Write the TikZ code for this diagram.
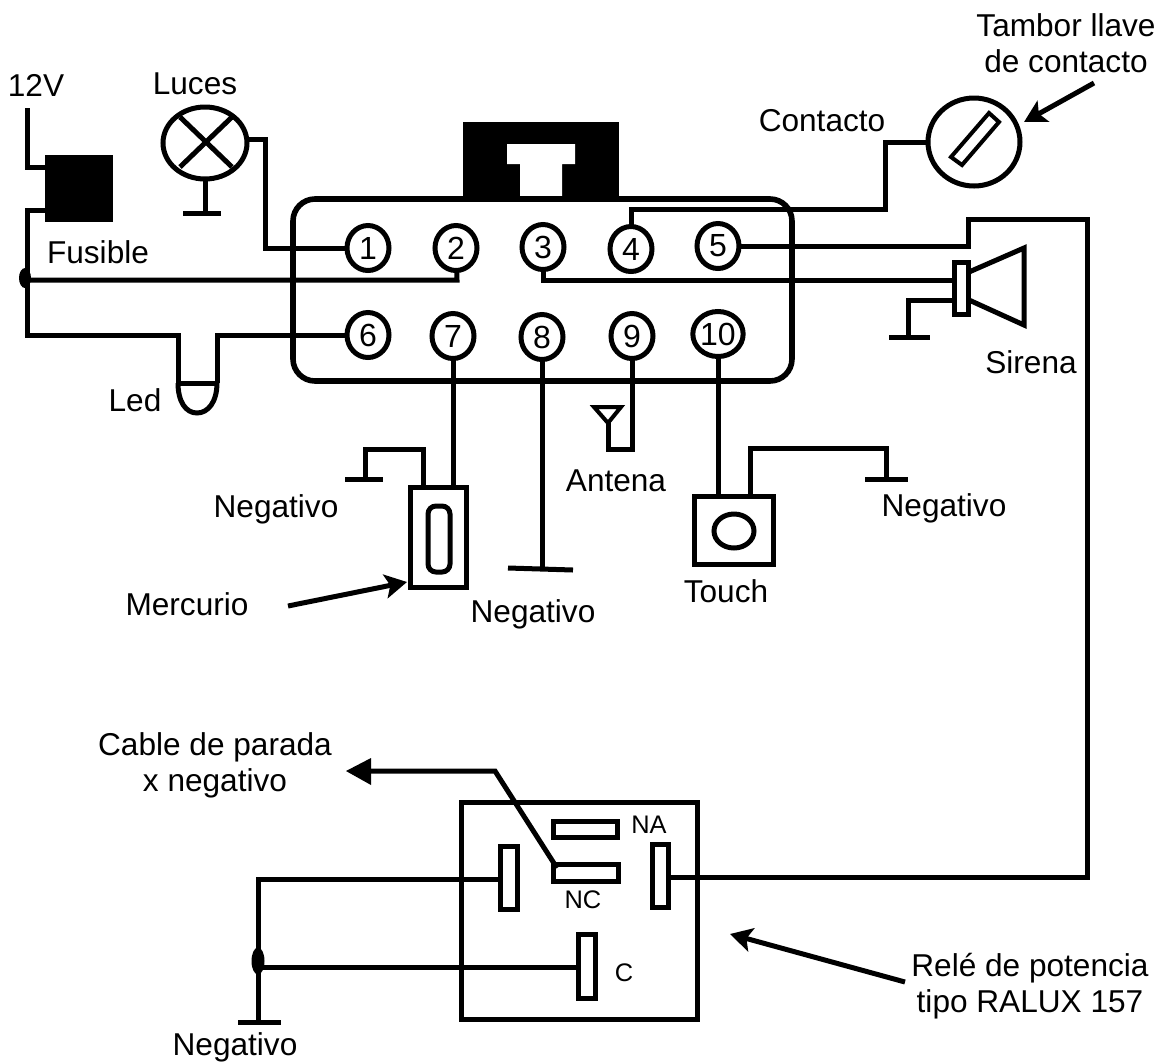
\documentclass[tikz,border=0pt]{standalone}
\usepackage{fontspec}
\setmainfont{Liberation Sans}
\usetikzlibrary{arrows.meta, shapes.geometric}

\tikzset{
    wire/.style={line width=2.5pt, line cap=butt, line join=miter},
    pin/.style={draw, ellipse, line width=2.5pt, fill=white, inner sep=0pt, outer sep=0pt,
        minimum width=21pt, minimum height=22.5pt, font=\fontsize{16}{17}\selectfont},
    label/.style={inner sep=0pt, align=center, font=\fontsize{15.8}{18}\selectfont},
    small/.style={inner sep=0pt, font=\fontsize{12.7}{14}\selectfont},
    box/.style={draw, line width=2.5pt, fill=white, inner sep=0pt, outer sep=0pt},
    lug/.style={draw, line width=2.5pt, fill=white, inner sep=0pt, outer sep=0pt},
    arrow/.style={line width=2.5pt, -{Stealth[length=11pt, width=12pt, inset=2.5pt]}},
    dot/.style={draw=none, fill=black, ellipse, inner sep=0pt}
}

\begin{document}
\begin{tikzpicture}[x=0.5pt, y=-0.5pt]
    \useasboundingbox (0,0) rectangle (1164,1062);

    % Alarm body
    \fill (463,122) rectangle (619,200);
    \fill[white] (507,144) -- (575,144) -- (575,164) -- (562,164) -- (562,197) -- (520,197) -- (520,164) -- (507,164) -- cycle;

    % Pins
    \foreach \n/\x/\y in {1/368/248, 2/456/248, 3/543/247, 4/631/249, 5/718/246,
                          6/368/335, 7/453/336, 8/542/337, 9/632/336, 10/718/334} {
        \coordinate (c\n) at (\x,\y);
    }

    % Wires at the body
    \coordinate (vcc) at (27,108);
    \coordinate (jfuse) at (27,210);
    \coordinate (jbat) at (27,280);
    \coordinate (ledl) at (178,335);
    \coordinate (ledr) at (217,335);
    \coordinate (ledbl) at (178,383);
    \coordinate (ledbr) at (217,383);

    \node[draw=none, fill=black, minimum width=34pt, minimum height=33.5pt, inner sep=0pt] (fuse) at (79,188.5) {};
    \draw[wire] (vcc) |- (45,167);
    \draw[wire] (45,210) -- (jfuse) |- (ledl) -- (ledbl);
    \draw[wire] (jbat) -- (457,280) -- (c2);
    \draw[wire] (ledbr) -- (ledr) -- (c6);
    \draw[wire] (ledbl) -- (ledbr);
    \draw[wire] (ledbl) .. controls (178,402) and (186,413) .. (197,413) .. controls (208,413) and (217,402) .. (ledbr);
    \node[dot, minimum width=6pt, minimum height=10pt] (dotbat) at (25,278) {};

    \draw[line width=2.8pt, rounded corners=11pt] (293,199) rectangle (792,381);

    % Lamp
    \node[draw, ellipse, line width=2.5pt, inner sep=0pt, outer sep=0pt, minimum width=42pt, minimum height=36pt] (lamp) at (205,143) {};
    \draw[wire] (180,117) -- (232,167);
    \draw[wire] (232,117) -- (180,167);
    \coordinate (lampgnd) at (205,213);
    \draw[wire] (lamp.south) -- (lampgnd);
    \draw[wire] (183,213) -- (221,213);
    \draw[wire] (lamp.east |- 0,139) -- (265,139) |- (c1);

    % Key
    \node[draw, ellipse, line width=2.5pt, inner sep=0pt, outer sep=0pt, minimum width=46pt, minimum height=44pt] (key) at (974,142) {};
    \draw[line width=2pt] (989,113) -- (999,122) -- (962,165) -- (951,157) -- cycle;
    \draw[wire] (c4) -- (631,209) -- (885,209) -- (885,142) -- (key.west);
    \draw[arrow] (1094,83) -- (1024,122);

    % Siren
    \draw[wire] (969,272) -- (1024,248) -- (1024,325) -- (969,300);
    \draw[wire] (c3) -- (543,280) -- (957,280);
    \node[lug, minimum width=7pt, minimum height=26pt] (horn) at (961.5,288) {};
    \draw[wire] (horn.west |- 0,300) -- (908,300) -- (908,337);
    \draw[wire] (889,337) -- (930,337);
    \draw[wire] (c5) -- (968,246) -- (968,219) -- (1087,219) |- (668,877);

    % Mercury switch
    \node[box, minimum width=28pt, minimum height=50pt] (merc) at (438.5,537) {};
    \draw[wire, rounded corners=4pt] (428,506) rectangle (450,572);
    \draw[wire] (c7) -- (453,487);
    \draw[wire] (423,487) -- (423,449) -- (365,449) -- (365,479);
    \draw[wire] (345,479) -- (383,479);
    \draw[arrow] (288,606) -- (407,582);

    % Negative
    \draw[wire] (c8) -- (542,569);
    \draw[wire] (508,568) -- (573,570);

    % Antenna
    \draw[wire] (c9) -- (632,449) -- (608,449) -- (608,423);
    \draw[line width=2pt] (594,407) -- (621,407) -- (608,423) -- cycle;

    % Touch
    \node[box, minimum width=39.5pt, minimum height=34pt] (touch) at (733.5,530) {};
    \node[draw, ellipse, line width=2.5pt, inner sep=0pt, minimum width=20pt, minimum height=17pt] (sense) at (734,531) {};
    \draw[wire] (c10) -- (718,496);
    \draw[wire] (750,496) -- (750,448) -- (886,448) -- (886,479);
    \draw[wire] (865,479) -- (908,479);

    % Pin circles on top
    \foreach \n in {1,2,3,4,5,6,7,8,9,10} {
        \node[pin] (p\n) at (c\n) {\n};
    }

    % Relay
    \node[box, fill=none, minimum width=118pt, minimum height=108.5pt] (relay) at (579,910.5) {};
    \node[lug, minimum width=8.5pt, minimum height=31.5pt] (lug85) at (508.5,877.5) {};
    \node[lug, minimum width=32pt, minimum height=8pt] (lugna) at (585,829) {};
    \node[lug, minimum width=32.5pt, minimum height=8.5pt] (lugnc) at (585.5,872.5) {};
    \node[lug, minimum width=8pt, minimum height=31.5pt] (lug87) at (660,875.5) {};
    \node[lug, minimum width=8.5pt, minimum height=32pt] (lugc) at (586.5,966) {};
    \coordinate (relaygnd) at (258,1022);
    \draw[wire] (lug85.west |- 0,879) -- (258,879) -- (relaygnd);
    \draw[wire] (238,1022) -- (281,1022);
    \draw[wire] (258,967) -- (lugc.west |- 0,967);
    \node[dot, minimum width=6.5pt, minimum height=13.5pt] (dotgnd) at (258,961) {};
    \draw[wire] (557,868) -- (495,771) -- (365,771);
    \fill (346,771) -- (371,758) -- (371,785) -- cycle;
    \draw[arrow] (905,982) -- (730,934);

    % Labels
    \node[label] (lbat) at (36,85) {12V};
    \node[label] (llamp) at (195,84) {Luces};
    \node[label] (lfuse) at (98,252) {Fusible};
    \node[label] (lled) at (135,400) {Led};
    \node[label] (lcont) at (822,121) {Contacto};
    \node[label] (lkey) at (1066,43) {Tambor llave\\de contacto};
    \node[label] (lsiren) at (1031,362) {Sirena};
    \node[label] (lnega) at (276,509) {Negativo};
    \node[label] (lant) at (616,481) {Antena};
    \node[label] (lnegb) at (944,508) {Negativo};
    \node[label] (ltouch) at (726,591) {Touch};
    \node[label] (lmerc) at (187,604) {Mercurio};
    \node[label] (lnegc) at (533,614) {Negativo};
    \node[label] (lcable) at (215,765) {Cable de parada\\x negativo};
    \node[label] (lrelay) at (1030,986) {Relé de potencia\\tipo RALUX 157};
    \node[label] (lnegd) at (235,1047) {Negativo};
    \node[small] (lna) at (649,825) {NA};
    \node[small] (lnc) at (583,900) {NC};
    \node[small] (lc) at (624,973) {C};
\end{tikzpicture}
\end{document}
